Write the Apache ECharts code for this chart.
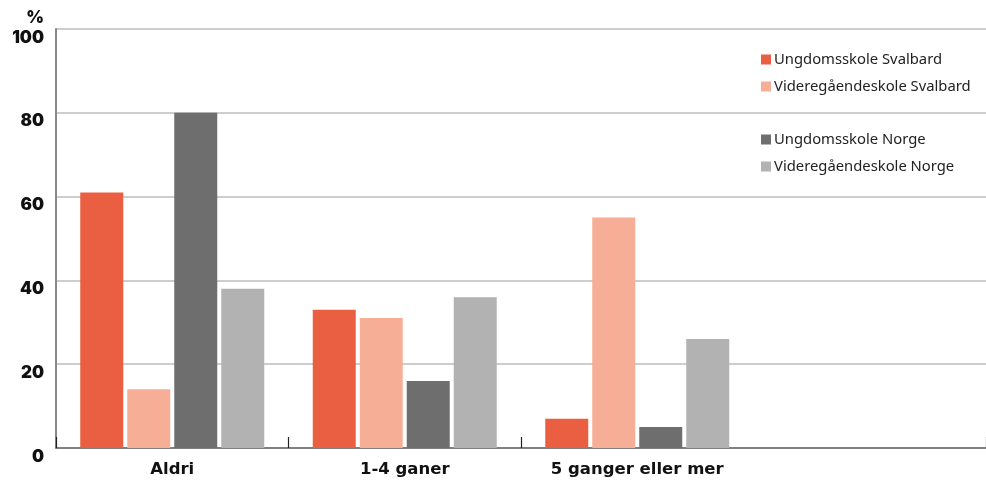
<!DOCTYPE html>
<html><head><meta charset="utf-8">
<script src="https://cdn.jsdelivr.net/npm/echarts@6/dist/echarts.min.js"></script>
<style>html,body{margin:0;padding:0;background:#fff}#c{width:986px;height:480px}</style>
</head><body><div id="c"></div>
<script>
const categories = ['Aldri', '1-4 ganer', '5 ganger eller mer', ''];
const ungdomSvalbard = [61, 33, 7];
const vgsSvalbard = [14, 31, 55];
const ungdomNorge = [80, 16, 5];
const vgsNorge = [38, 36, 26];
const seriesNames = ['Ungdomsskole Svalbard', 'Videregåendeskole Svalbard', 'Ungdomsskole Norge', 'Videregåendeskole Norge'];
const colors = ['#EA5E42', '#F6AF96', '#6E6E6E', '#B2B2B2'];
const yTicks = [0, 20, 40, 60, 80, 100];

const chart = echarts.init(document.getElementById('c'));
const dataSets = [ungdomSvalbard, vgsSvalbard, ungdomNorge, vgsNorge];
const legendStyle = {fontFamily: 'Noto Sans', fontSize: 14.8, color: '#222', padding: [0, 0, 0, -2]};
chart.setOption({
  animation: false,
  color: colors,
  grid: {left: 56, right: 0, top: 29, bottom: 32, containLabel: false},
  legend: [
    {data: seriesNames.slice(0, 2), orient: 'vertical', left: 756, top: 47, itemWidth: 10, itemHeight: 10, itemGap: 12, icon: 'rect', textStyle: legendStyle},
    {data: seriesNames.slice(2, 4), orient: 'vertical', left: 756, top: 127, itemWidth: 10, itemHeight: 10, itemGap: 12, icon: 'rect', textStyle: legendStyle}
  ],
  xAxis: {
    type: 'category', data: categories,
    axisLine: {lineStyle: {color: '#666', width: 1.5}},
    axisTick: {show: true, inside: true, length: 11, lineStyle: {color: '#222', width: 1.2},
      interval: function (index) { return index === 0 || index === 1 || index === 2; }},
    axisLabel: {fontFamily: 'DejaVu Sans', fontWeight: 'bold', fontSize: 16.5, color: '#111', margin: 13}
  },
  yAxis: {
    type: 'value', min: 0, max: 100, interval: 20,
    name: '%', nameLocation: 'end', nameGap: 3,
    nameTextStyle: {fontFamily: 'Inter', fontWeight: 900, fontSize: 17, color: '#111', align: 'right', padding: [0, 12, 0, 0]},
    axisLine: {show: true, lineStyle: {color: '#888', width: 2}},
    axisTick: {show: false},
    axisLabel: {fontFamily: 'Inter', fontWeight: 900, fontSize: 17, color: '#111', verticalAlign: 'top', margin: 12,
      formatter: function (v) { return yTicks.indexOf(v) >= 0 ? String(v) : ''; }},
    splitLine: {lineStyle: {color: '#bdbdbd', width: 1.5}}
  },
  series: dataSets.map((d, i) => ({
    name: seriesNames[i], type: 'bar', data: d, barWidth: 43, barGap: '9.3%',
    itemStyle: {color: colors[i]}
  }))
});
</script></body></html>
